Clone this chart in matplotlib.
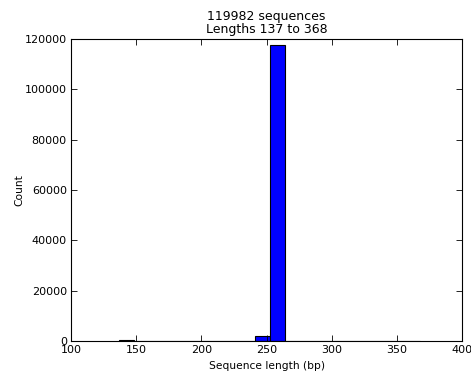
import numpy as np
import matplotlib
matplotlib.use("Agg")
import matplotlib.pyplot as plt

# Read-length histogram: 20 equal-width bins between the shortest and longest read
min_len = 137
max_len = 368
n_bins = 20
counts = [200, 0, 0, 0, 0, 0, 0, 0, 0, 1900,
          117700, 170, 0, 0, 0, 0, 0, 0, 0, 12]
total_reads = 119982

edges = np.linspace(min_len, max_len, n_bins + 1)

fig = plt.figure(figsize=(4.71, 3.71), dpi=100)
ax = fig.add_axes([0.1507, 0.0809, 0.8303, 0.814])

ax.hist(edges[:-1], bins=edges, weights=counts, facecolor="#0000ff",
        edgecolor="black", linewidth=0.8)

ax.set_xlim(100, 400)
ax.set_ylim(0, 120000)
ax.set_xticks(np.arange(100, 401, 50))
ax.set_yticks(np.arange(0, 120001, 20000))
ax.tick_params(direction="in", top=True, right=True, length=4, width=0.6,
               labelsize=8, pad=3)
for s in ax.spines.values():
    s.set_linewidth(0.8)

ax.set_xlabel("Sequence length (bp)", fontsize=7.7, labelpad=4)
ax.set_ylabel("Count", fontsize=7.7, labelpad=0.5)
ax.set_title(f"{total_reads} sequences\nLengths {min_len} to {max_len}",
             fontsize=9, linespacing=1.05, pad=4)

fig.savefig("out.png", dpi=100)
